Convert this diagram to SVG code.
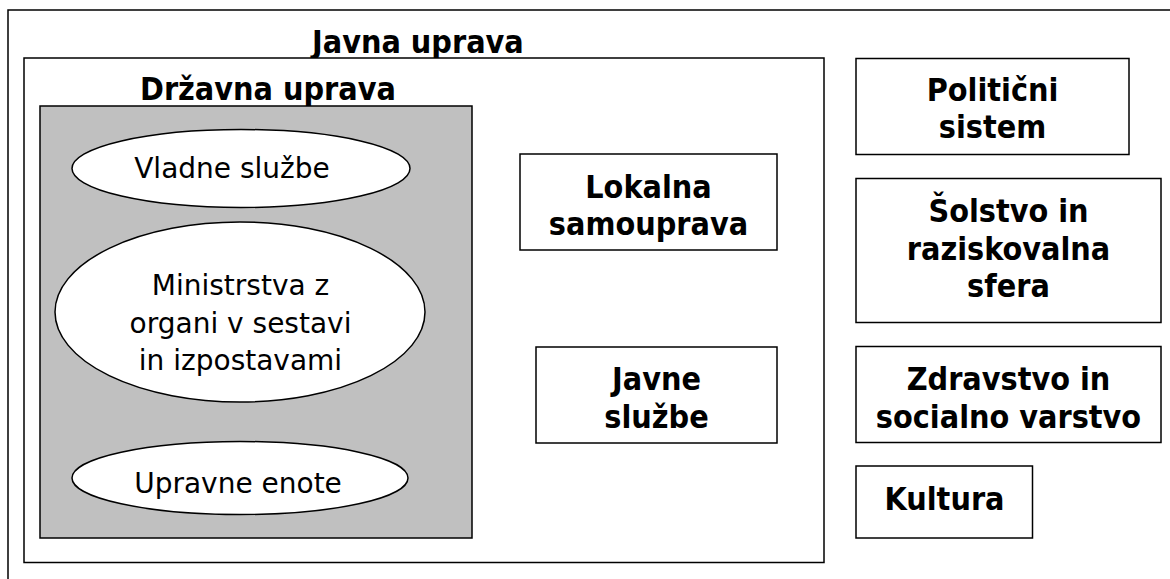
<svg xmlns="http://www.w3.org/2000/svg" width="1170" height="579" viewBox="0 0 1170 579">
<style>
.box{fill:#fff;stroke:#000;stroke-width:1.5}
.grey{fill:#c0c0c0;stroke:#000;stroke-width:1.5}
.ell{fill:#fff;stroke:#000;stroke-width:1.5}
.b{font-family:"DejaVu Sans Condensed","DejaVu Sans",sans-serif;font-stretch:condensed;font-weight:bold;font-size:32px;fill:#000;text-anchor:middle}
.bl{font-family:"DejaVu Sans Condensed","DejaVu Sans",sans-serif;font-stretch:condensed;font-weight:bold;font-size:32px;fill:#000}
.r{font-family:"DejaVu Sans",sans-serif;font-size:28px;fill:#000;text-anchor:middle}
</style>
<rect width="1170" height="579" fill="#fff"/>
<g id="outer">
<rect class="box" x="8" y="10" width="1200" height="620"/>
<text class="bl" x="312" y="52.5">Javna uprava</text>
</g>
<g id="javna-uprava">
<rect class="box" x="24" y="58" width="800" height="504.5"/>
<text class="bl" x="140" y="100">Državna uprava</text>
</g>
<g id="drzavna-uprava">
<rect class="grey" x="40" y="106" width="432" height="432"/>
</g>
<g id="vladne-sluzbe">
<ellipse class="ell" cx="241" cy="168.5" rx="169" ry="39"/>
<text class="r" x="232" y="178.3">Vladne službe</text>
</g>
<g id="ministrstva">
<ellipse class="ell" cx="240" cy="312" rx="185" ry="90"/>
<text class="r" x="240.5" y="295">Ministrstva z</text>
<text class="r" x="240.5" y="332.5">organi v sestavi</text>
<text class="r" x="240.5" y="370">in izpostavami</text>
</g>
<g id="upravne-enote">
<ellipse class="ell" cx="240" cy="478" rx="168" ry="36.5"/>
<text class="r" x="238" y="493.3">Upravne enote</text>
</g>
<g id="lokalna-samouprava">
<rect class="box" x="520" y="154" width="257" height="96"/>
<text class="b" x="648.5" y="197.5">Lokalna</text>
<text class="b" x="648.5" y="235">samouprava</text>
</g>
<g id="javne-sluzbe">
<rect class="box" x="536" y="347" width="241" height="96"/>
<text class="b" x="656.5" y="390">Javne</text>
<text class="b" x="656.5" y="427.5">službe</text>
</g>
<g id="politicni-sistem">
<rect class="box" x="856" y="58.5" width="273" height="96"/>
<text class="b" x="992.5" y="100.5">Politični</text>
<text class="b" x="992.5" y="138">sistem</text>
</g>
<g id="solstvo">
<rect class="box" x="856" y="178.5" width="305" height="144"/>
<text class="b" x="1008.5" y="221.5">Šolstvo in</text>
<text class="b" x="1008.5" y="259.5">raziskovalna</text>
<text class="b" x="1008.5" y="297">sfera</text>
</g>
<g id="zdravstvo">
<rect class="box" x="856" y="346.5" width="305" height="96"/>
<text class="b" x="1008.5" y="389.5">Zdravstvo in</text>
<text class="b" x="1008.5" y="427.5">socialno varstvo</text>
</g>
<g id="kultura">
<rect class="box" x="856" y="466" width="176.5" height="72"/>
<text class="b" x="944.5" y="509.5">Kultura</text>
</g>
<g id="connectors"></g>
</svg>
